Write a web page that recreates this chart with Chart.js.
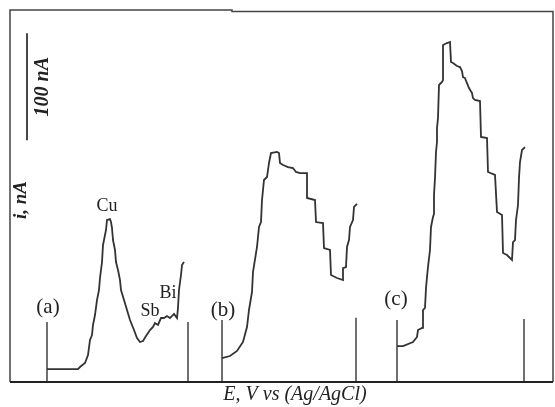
<!DOCTYPE html>
<html><head><meta charset="utf-8">
<script src="https://cdn.jsdelivr.net/npm/chart.js@4"></script>
<style>html,body{margin:0;padding:0;background:#fff}canvas{display:block}</style>
</head><body>
<canvas id="c" width="555" height="407"></canvas>
<script>
// Potential (arbitrary units along the E axis) and current (nA)
const curveA_E = [37,68,70,75,78,80,82,83,85,87,89,90,92,93,94,96,97,100,101,102,103,105,106,108,110,111,114,117,120,124,127,130,133,136,140,143,145,148,151,154,157,160,164,167,168,169,171,172,174];
const curveA_i = [12.1,12.1,14.0,17.8,25.2,39.3,43.9,53.3,62.6,76.6,86.0,97.2,112.1,128.0,132.7,142.1,151.4,152.3,149.5,143.9,132.7,123.4,112.1,104.7,95.3,86.0,76.6,67.3,57.9,48.6,41.1,37.4,38.3,43.0,48.6,51.4,55.1,53.3,59.8,59.8,61.7,59.8,63.6,59.8,69.2,86.0,100.0,109.3,112.1];
const curveB_E = [212,220,227,233,237,239,242,243,247,249,251,252,254,257,259,261,267,269,270,273,278,283,286,290,297,297,305,306,313,314,320,321,327,333,333,336,337,339,340,343,344,347];
const curveB_i = [22.4,24.3,29.0,37.4,51.4,67.3,84.1,102.8,126.2,144.9,149.5,170.1,188.8,191.6,204.7,214.0,215.0,214.0,204.7,202.8,200.9,200.0,196.3,195.3,195.3,172.0,170.1,149.5,148.6,125.2,123.4,100.0,97.2,95.3,106.5,107.5,126.2,132.7,144.9,151.4,163.6,166.4];
const curveC_E = [387,393,403,407,408,412,413,415,416,417,418,420,421,423,424,424,425,426,427,427,428,429,432,433,433,437,440,441,443,447,450,452,453,455,457,459,462,463,465,470,471,477,478,485,487,492,493,497,500,502,503,505,506,508,509,510,512,515];
const curveC_i = [33.6,33.6,37.4,42.1,48.6,50.5,67.3,69.2,87.9,98.1,107.5,123.4,144.9,154.2,157.0,174.8,190.7,215.0,224.3,237.4,246.7,277.6,280.4,282.2,315.0,316.8,317.8,299.1,298.1,295.3,294.4,290.7,285.0,284.1,279.4,274.8,270.1,265.4,263.6,262.6,229.0,228.0,196.3,193.5,158.9,156.1,120.6,118.7,115.9,114.0,130.8,132.7,151.4,165.4,190.7,205.6,216.8,219.6];
// Start / end potential markers for each scan
const markerE = [37,178,212,346,387,514];
const markerTop = [56,56,58,60,58,59];
// 100 nA scale bar
const scaleBarE = 17;
const scaleBarI = [226,326];
// Text labels
const labelTexts = ["(a)","(b)","(c)","Cu","Sb","Bi"];
const labelE = [38,213,386,97,140,158];
const labelI = [70,67,77,164,66,83];

const E_MIN = 0, E_MAX = 543, I_MIN = 0, I_MAX = 347.7;

function pts(xs, ys){ return xs.map((x,k)=>({x:x, y:ys[k]})); }
const curveStyle = {borderColor:'#333', borderWidth:1.8, pointRadius:0, showLine:true, fill:false, tension:0};
const tickStyle = {borderColor:'#222', borderWidth:1.3, pointRadius:0, showLine:true, fill:false};

const datasets = [
  Object.assign({label:'a', data:pts(curveA_E, curveA_i)}, curveStyle),
  Object.assign({label:'b', data:pts(curveB_E, curveB_i)}, curveStyle),
  Object.assign({label:'c', data:pts(curveC_E, curveC_i)}, curveStyle),
  Object.assign({label:'scale', data:[{x:scaleBarE,y:scaleBarI[0]},{x:scaleBarE,y:scaleBarI[1]}]}, tickStyle, {borderWidth:1.8, borderColor:'#333'})
];
markerE.forEach((e,k)=>datasets.push(Object.assign({label:'m'+k, data:[{x:e,y:0},{x:e,y:markerTop[k]}]}, tickStyle)));

const decor = {
  id:'decor',
  afterDraw(chart){
    const ctx = chart.ctx, a = chart.chartArea, xs = chart.scales.x, ys = chart.scales.y;
    ctx.save();
    // frame
    ctx.strokeStyle = '#444'; ctx.lineWidth = 1.5;
    ctx.beginPath();
    ctx.moveTo(a.left, a.bottom); ctx.lineTo(a.left, a.top); ctx.lineTo(232, a.top);
    ctx.lineTo(232, a.top+1.5); ctx.lineTo(a.right, a.top+1.5); ctx.lineTo(a.right, a.bottom);
    ctx.stroke();
    ctx.strokeStyle = '#222'; ctx.lineWidth = 2;
    ctx.beginPath(); ctx.moveTo(a.left, a.bottom); ctx.lineTo(a.right, a.bottom); ctx.stroke();
    // labels
    ctx.fillStyle = '#222'; ctx.textAlign = 'center'; ctx.textBaseline = 'middle';
    labelTexts.forEach((t,k)=>{
      const big = t.startsWith('(');
      ctx.font = (big ? '21px' : '18px') + ' "Liberation Serif", serif';
      ctx.fillText(t, xs.getPixelForValue(labelE[k]), ys.getPixelForValue(labelI[k]));
    });
    // scale bar text
    ctx.save();
    ctx.translate(xs.getPixelForValue(scaleBarE) + 16, ys.getPixelForValue((scaleBarI[0]+scaleBarI[1])/2));
    ctx.rotate(-Math.PI/2);
    ctx.font = 'italic bold 20px "Liberation Serif", serif';
    ctx.fillText('100 nA', 0, 0);
    ctx.restore();
    // y axis title
    ctx.save();
    ctx.translate(a.left + 11, 200);
    ctx.rotate(-Math.PI/2);
    ctx.font = 'italic bold 19px "Liberation Serif", serif';
    ctx.fillText('i, nA', 0, 0);
    ctx.restore();
    // x axis title
    ctx.font = 'italic 20px "Liberation Serif", serif';
    ctx.fillText('E, V vs (Ag/AgCl)', 295, a.bottom + 13);
    ctx.restore();
  }
};

new Chart(document.getElementById('c'), {
  type:'scatter',
  data:{datasets},
  options:{
    responsive:false, animation:false, devicePixelRatio:1,
    layout:{padding:{left:10, top:10, right:2, bottom:25}},
    plugins:{legend:{display:false}, tooltip:{enabled:false}},
    scales:{
      x:{type:'linear', min:E_MIN, max:E_MAX, display:false},
      y:{type:'linear', min:I_MIN, max:I_MAX, display:false}
    }
  },
  plugins:[decor]
});
</script>
</body></html>
